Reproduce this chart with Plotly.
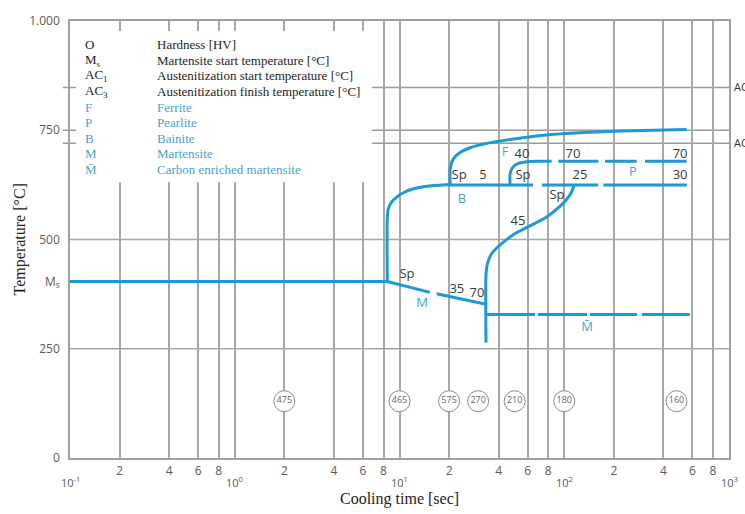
import numpy as np
import plotly.graph_objects as go

# ---------------- axis ticks ----------------
decades = [0.1, 1, 10, 100, 1000]
decade_labels = ["10<sup>-1</sup>", "10<sup>0</sup>", "10<sup>1</sup>", "10<sup>2</sup>", "10<sup>3</sup>"]
minor_mult = [2, 4, 6, 8]
temp_ticks = [0, 250, 500, 750, 1000]
temp_tick_labels = ["0", "250", "500", "750", "1.000"]

# ---------------- characteristic temperatures [°C] ----------------
MS = 404
AC1 = 720
AC3 = 848

# ---------------- transformation lines: cooling time [s], temperature [°C] ----------------
ms_t = [0.1, 8.43]
ms_T = [404, 404]

bainite_start_t = [8.43, 8.43, 8.55, 8.97, 9.62, 10.55, 12.13, 14.63, 18.45, 20.3, 64.7]
bainite_start_T = [404, 548, 570, 586, 597, 607, 616, 622, 625, 625, 625]

# pearlite finish (dashed continuation of the bainite start line)
pearlite_end_t = [[73.2, 160.8], [172.6, 555]]
pearlite_end_T = [[625, 625], [625, 625]]

ferrite_start_t = [20.3, 20.3, 21.2, 23.3, 26.8, 33.8, 46.9, 68.0, 108.4, 217.9, 553]
ferrite_start_T = [625, 661, 684, 699, 710, 720, 729, 737, 743, 748, 752]

pearlite_start_t = [46.9, 46.9, 48.7, 52.6, 59.2, 68.0, 83.9]
pearlite_start_T = [625, 650, 665, 674, 678, 679, 679]
pearlite_dash_t = [[92.0, 161], [176.7, 275.4], [309, 553]]
pearlite_dash_T = [[679, 679], [679, 679], [679, 679]]

bainite_end_t = [33.5, 33.5, 34.2, 35.9, 39.0, 43.7, 50.9, 61.9, 76.4, 90.3, 102.5, 110.7, 114.6]
bainite_end_T = [264, 419, 445, 465, 481, 497, 515, 531, 549, 570, 590, 608, 624]

martensite_t = [[8.43, 15.3], [16.8, 33.5]]
martensite_T = [[404, 379], [376, 352]]

c_martensite_t = [[33.5, 66.4], [69.3, 137.4], [143.2, 276.7], [296.6, 579]]
c_martensite_T = [[328.5, 328.5], [328.5, 328.5], [328.5, 328.5], [328.5, 328.5]]

# ---------------- hardness [HV] at the end of each cooling curve ----------------
hardness_t = [2, 10, 20, 30, 50, 100, 480]
hardness_hv = [475, 465, 575, 270, 210, 180, 160]
hardness_level = 130

# ---------------- phase fraction / start labels ----------------
note_text = ["Sp", "35", "70", "40", "70", "70", "Sp", "5", "Sp", "25", "30", "Sp", "45"]
note_t = [11.1, 22.3, 29.5, 55.4, 113, 505, 23.0, 32.1, 56.2, 124.7, 505, 90.4, 52.4]
note_T = [420, 386, 377, 695, 695, 695, 645, 645, 645, 645, 645, 601, 540]

phase_text = ["M", "M\u0304", "F", "P", "B"]
phase_t = [13.7, 137.4, 43.7, 261, 23.9]
phase_T = [354, 297, 699, 652, 592]

# ---------------- key ----------------
key_symbols = ["O", "M<sub>s</sub>", "AC<sub>1</sub>", "AC<sub>3</sub>", "F", "P", "B", "M", "M\u0304"]
key_texts = ["Hardness [HV]", "Martensite start temperature [°C]",
             "Austenitization start temperature [°C]", "Austenitization finish temperature [°C]",
             "Ferrite", "Pearlite", "Bainite", "Martensite", "Carbon enriched martensite"]

LINE_BLUE = "#1b9ad8"
LABEL_BLUE = "#4a9fd8"
GRID = "#a8a8a8"
TICK_GREY = "#5a5a5a"
SANS = "Open Sans"
SERIF = "Liberation Serif"

fig = go.Figure()


def add_line(t, T):
    fig.add_trace(go.Scatter(x=t, y=T, mode="lines", showlegend=False, hoverinfo="skip",
                             line=dict(color=LINE_BLUE, width=3, shape="spline", smoothing=0.6)))


add_line(ms_t, ms_T)
add_line(bainite_start_t, bainite_start_T)
for t, T in zip(pearlite_end_t, pearlite_end_T):
    add_line(t, T)
add_line(ferrite_start_t, ferrite_start_T)
add_line(pearlite_start_t, pearlite_start_T)
for t, T in zip(pearlite_dash_t, pearlite_dash_T):
    add_line(t, T)
add_line(bainite_end_t, bainite_end_T)
for t, T in zip(martensite_t, martensite_T):
    add_line(t, T)
for t, T in zip(c_martensite_t, c_martensite_T):
    add_line(t, T)

# hardness circles
fig.add_trace(go.Scatter(
    x=hardness_t, y=[hardness_level] * len(hardness_t), mode="markers+text",
    text=[str(v) for v in hardness_hv], textposition="middle center",
    textfont=dict(family=SANS, size=9, color="#666666"),
    marker=dict(symbol="circle", size=21, color="white", line=dict(color="#8a8a8a", width=1)),
    showlegend=False, hoverinfo="skip", cliponaxis=False))

# numbers and start markers along the lines
fig.add_trace(go.Scatter(
    x=note_t, y=note_T, mode="text", text=note_text, textposition="middle center",
    textfont=dict(family=SANS, size=13, color="#3a3a3a"),
    showlegend=False, hoverinfo="skip", cliponaxis=False))

# phase letters
fig.add_trace(go.Scatter(
    x=phase_t, y=phase_T, mode="text", text=phase_text, textposition="middle center",
    textfont=dict(family=SANS, size=13, color=LABEL_BLUE),
    showlegend=False, hoverinfo="skip", cliponaxis=False))

# x grid positions: 2, 4, 6, 8 within every decade plus the decades themselves
x_ticks, x_tick_text = [], []
for d in decades[:-1]:
    x_ticks.append(d)
    x_tick_text.append(" ")
    for m in minor_mult:
        x_ticks.append(d * m)
        x_tick_text.append(str(m))
x_ticks.append(decades[-1])
x_tick_text.append(" ")

y_ticks = temp_ticks[:2] + [MS] + temp_ticks[2:]
y_tick_text = temp_tick_labels[:2] + ["M<sub>s</sub>"] + temp_tick_labels[2:]

shapes = []
# horizontal grid lines (paper coordinates; y range is 0..1000)
for T in [250, 500]:
    shapes.append(dict(type="line", xref="paper", yref="paper", x0=0, x1=1, y0=T / 1000, y1=T / 1000,
                       line=dict(color=GRID, width=1.5), layer="below"))
for T in [AC1, 750, AC3]:
    shapes.append(dict(type="line", xref="paper", yref="paper", x0=-0.011, x1=1.003,
                       y0=T / 1000, y1=T / 1000, line=dict(color="#9a9a9a", width=1.5), layer="below"))
# white key panel in the upper left
shapes.append(dict(type="rect", xref="paper", yref="paper", x0=0.009, x1=0.458, y0=0.631, y1=0.977,
                   fillcolor="white", line=dict(width=0), layer="above"))

annotations = []
for d, lab in zip(decades, decade_labels):
    annotations.append(dict(x=np.log10(d), y=0, xref="x", yref="paper", text=lab, showarrow=False,
                            xanchor="center", yanchor="middle", yshift=-24,
                            font=dict(family=SANS, size=11, color=TICK_GREY)))
annotations.append(dict(x=0.5, y=0, xref="paper", yref="paper", text="Cooling time [sec]", showarrow=False,
                        xanchor="center", yanchor="middle", yshift=-41,
                        font=dict(family=SERIF, size=16, color="#222222")))
annotations.append(dict(x=-0.076, y=0.5, xref="paper", yref="paper", text="Temperature [°C]",
                        showarrow=False, textangle=-90, xanchor="center", yanchor="middle",
                        font=dict(family=SERIF, size=16, color="#222222")))
for T, lab in [(AC3, "AC<sub>3</sub>"), (AC1, "AC<sub>1</sub>")]:
    annotations.append(dict(x=1.0045, y=T / 1000, xref="paper", yref="paper", text=lab, showarrow=False,
                            xanchor="left", yanchor="middle",
                            font=dict(family=SANS, size=11, color="#333333")))

# key rows
row_y0, row_step = 41, 15.7
for i, (sym, txt) in enumerate(zip(key_symbols, key_texts)):
    col = "#1e1e1e" if i < 4 else LABEL_BLUE
    py = row_y0 + i * row_step
    yp = (458 - py) / 441
    annotations.append(dict(x=(83 - 70) / 659, y=yp, xref="paper", yref="paper", text=sym,
                            showarrow=False, xanchor="left", yanchor="middle",
                            font=dict(family=SERIF, size=13, color=col)))
    annotations.append(dict(x=(155 - 70) / 659, y=yp, xref="paper", yref="paper", text=txt,
                            showarrow=False, xanchor="left", yanchor="middle",
                            font=dict(family=SERIF, size=13, color=col)))

fig.update_layout(
    width=745, height=514,
    margin=dict(l=70, r=16, t=17, b=56),
    paper_bgcolor="white", plot_bgcolor="white",
    showlegend=False,
    shapes=shapes, annotations=annotations,
    xaxis=dict(type="log", range=[-1, 3], tickmode="array", tickvals=x_ticks, ticktext=x_tick_text,
               showgrid=True, gridcolor=GRID, gridwidth=1.5, ticks="",
               showline=True, linecolor="#a0a0a0", linewidth=1.5, mirror=True, zeroline=False,
               tickfont=dict(family=SANS, size=12, color=TICK_GREY), ticklabelstandoff=1),
    yaxis=dict(range=[0, 1000], tickmode="array", tickvals=y_ticks, ticktext=y_tick_text,
               showgrid=False, ticks="", showline=True, linecolor="#a0a0a0", linewidth=1.5,
               mirror=True, zeroline=False, ticklabelstandoff=6,
               tickfont=dict(family=SANS, size=12, color=TICK_GREY)),
)

fig.write_html("out.html")
